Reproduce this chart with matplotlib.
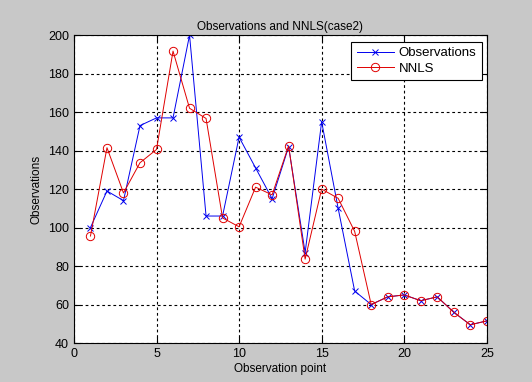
import matplotlib
matplotlib.use("Agg")
import matplotlib.pyplot as plt

plt.rcParams['font.family'] = ['Liberation Sans', 'DejaVu Sans']

points = list(range(1, 26))
observations = [100, 119, 114, 153, 157, 157, 200, 106, 106, 147, 131, 115, 142,
                87, 155, 110, 67, 60, 64, 65, 62, 64, 56, 49.5, 51.5]
nnls = [95.6, 141.5, 118, 133.7, 140.6, 191.7, 162, 156.7, 105, 100.4, 121, 117,
        142.5, 83.6, 120, 115.2, 98, 60, 64, 65, 62, 64, 56, 49.5, 51.5]

xticks = [0, 5, 10, 15, 20, 25]
yticks = [40, 60, 80, 100, 120, 140, 160, 180, 200]

fig = plt.figure(figsize=(5.32, 3.82), dpi=100, facecolor='#c8c8c8')
ax = fig.add_axes([0.139, 0.102, 0.776, 0.806])
ax.set_facecolor('white')

ax.plot(points, observations, '-x', color='#0000ee', lw=0.7, ms=4, mew=0.7,
        label='Observations')
ax.plot(points, nnls, '-o', color='#e00000', lw=0.7, ms=6, mew=0.7,
        markerfacecolor='none', label='NNLS')

ax.set_xlim(0, 25)
ax.set_ylim(40, 200)
ax.set_xticks(xticks)
ax.set_yticks(yticks)
ax.grid(True, linestyle=(0, (2.5, 2.5)), color='black', linewidth=0.8)
ax.tick_params(direction='in', labelsize=9, length=4, top=True, right=True)
for s in ax.spines.values():
    s.set_linewidth(0.8)

ax.set_title('Observations and NNLS(case2)', fontsize=8.5, pad=4)
ax.set_xlabel('Observation point', fontsize=8.5, labelpad=2)
ax.set_ylabel('Observations', fontsize=8.5, labelpad=4)

leg = ax.legend(loc='upper right', fontsize=9.5, fancybox=False, framealpha=1,
                edgecolor='black', bbox_to_anchor=(0.988, 0.978), borderaxespad=0,
                handlelength=2.8, borderpad=0.4, labelspacing=0.25,
                handletextpad=0.4)
leg.get_frame().set_linewidth(0.8)

fig.savefig('out.png', dpi=100, facecolor=fig.get_facecolor())
